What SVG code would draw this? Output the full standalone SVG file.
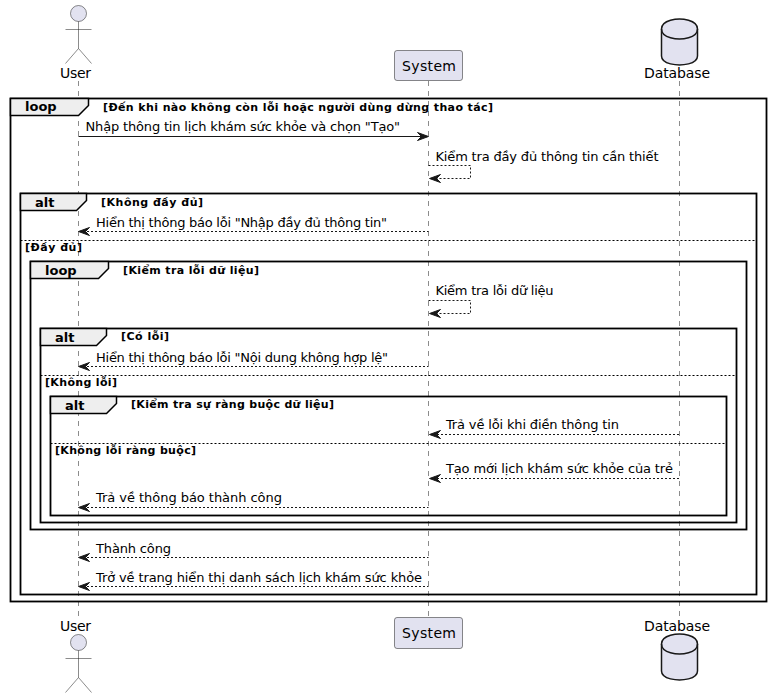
<svg xmlns="http://www.w3.org/2000/svg" width="771" height="698" viewBox="0 0 771 698">
<style>
text{font-family:"DejaVu Sans",sans-serif;fill:#000}
.m{font-size:13px}
.n{font-size:14px}
.g{font-size:11px;font-weight:bold}
.t{font-size:13px;font-weight:bold}
.life{stroke:#181818;stroke-width:.5;stroke-dasharray:5,5;fill:none}
.f{fill:none;stroke:#000;stroke-width:1.8}
.tab{fill:#EEEEEE;stroke:#000;stroke-width:1.5}
.div{stroke:#000;stroke-width:1;stroke-dasharray:2,2;fill:none}
.sol{stroke:#181818;stroke-width:1;fill:none}
.das{stroke:#181818;stroke-width:1;stroke-dasharray:2,2;fill:none}
.head{fill:#181818;stroke:#181818;stroke-width:1}
.actor{fill:#E2E2F0;stroke:#181818;stroke-width:.5}
.limb{fill:none;stroke:#181818;stroke-width:.5}
.box{fill:#E2E2F0;stroke:#181818;stroke-width:.5}
.db{fill:#E2E2F0;stroke:#181818;stroke-width:1.5}
</style>
<defs>
<path id="al" class="head" d="M78.5,0 l11,-4 l-4,4 l4,4 z"/>
<path id="ar" class="head" d="M428.5,0 l-11,-4 l4,4 l-4,4 z"/>
<path id="as" class="head" d="M429.5,0 l11,-4 l-4,4 l4,4 z"/>
</defs>
<g id="lifelines">
<line class="life" x1="78.5" y1="81" x2="78.5" y2="617"/>
<line class="life" x1="428.5" y1="81" x2="428.5" y2="617"/>
<line class="life" x1="679.5" y1="81" x2="679.5" y2="617"/>
</g>
<g id="user-top">
<circle class="actor" cx="78.5" cy="13.5" r="8"/>
<path class="limb" d="M78.5,21.5V48.5M65.5,29.5H91.5M78.5,48.5L65.5,63.5M78.5,48.5L91.5,63.5"/>
<text class="n" x="60" y="77.5" textLength="31">User</text>
</g>
<g id="user-bottom">
<circle class="actor" cx="78.5" cy="642.5" r="8"/>
<path class="limb" d="M78.5,650.5V677.5M65.5,658.5H91.5M78.5,677.5L65.5,692.5M78.5,677.5L91.5,692.5"/>
<text class="n" x="60" y="631" textLength="31">User</text>
</g>
<g id="system-top">
<rect class="box" x="394.5" y="50.5" width="68" height="30" rx="2.5"/>
<text class="n" x="402" y="70.5" textLength="54">System</text>
</g>
<g id="system-bottom">
<rect class="box" x="394.5" y="617.5" width="68" height="31" rx="2.5"/>
<text class="n" x="402" y="638" textLength="54">System</text>
</g>
<g id="database-top">
<path class="db" d="M661.5,29 C661.5,19 679.5,19 679.5,19 C679.5,19 697.5,19 697.5,29 V56 C697.5,65 679.5,65 679.5,65 C679.5,65 661.5,65 661.5,56 Z"/>
<path class="db" style="fill:none" d="M661.5,29 C661.5,39 679.5,39 679.5,39 C679.5,39 697.5,39 697.5,29"/>
<text class="n" x="644" y="77.5" textLength="66">Database</text>
</g>
<g id="database-bottom">
<path class="db" d="M661.5,644 C661.5,634 679.5,634 679.5,634 C679.5,634 697.5,634 697.5,644 V671 C697.5,680 679.5,680 679.5,680 C679.5,680 661.5,680 661.5,671 Z"/>
<path class="db" style="fill:none" d="M661.5,644 C661.5,654 679.5,654 679.5,654 C679.5,654 697.5,654 697.5,644"/>
<text class="n" x="644" y="631" textLength="66">Database</text>
</g>
<g id="frames">
<rect class="f" x="10.5" y="98.5" width="756" height="503"/>
<path class="tab" d="M10.5,98.5H88.5V105.5L78.5,115.5H10.5Z"/>
<text class="t" x="25" y="111">loop</text>
<text class="g" x="103" y="111" textLength="390" lengthAdjust="spacing">[Đến khi nào không còn lỗi hoặc người dùng dừng thao tác]</text>

<rect class="f" x="20.5" y="193.5" width="736" height="401"/>
<path class="tab" d="M20.5,193.5H86.5V200.5L76.5,210.5H20.5Z"/>
<text class="t" x="35" y="206.5">alt</text>
<text class="g" x="101" y="206" textLength="102" lengthAdjust="spacing">[Không đầy đủ]</text>
<line class="div" x1="20.5" y1="240.5" x2="756.5" y2="240.5"/>
<text class="g" x="25" y="251" textLength="57" lengthAdjust="spacing">[Đầy đủ]</text>

<rect class="f" x="30.5" y="261.5" width="716" height="268"/>
<path class="tab" d="M30.5,261.5H108.5V268.5L98.5,278.5H30.5Z"/>
<text class="t" x="45" y="275">loop</text>
<text class="g" x="123" y="274" textLength="136" lengthAdjust="spacing">[Kiểm tra lỗi dữ liệu]</text>

<rect class="f" x="40.5" y="328.5" width="696" height="194"/>
<path class="tab" d="M40.5,328.5H106.5V335.5L96.5,345.5H40.5Z"/>
<text class="t" x="55" y="341.5">alt</text>
<text class="g" x="121" y="340" textLength="48" lengthAdjust="spacing">[Có lỗi]</text>
<line class="div" x1="40.5" y1="375.5" x2="736.5" y2="375.5"/>
<text class="g" x="45" y="386" textLength="72" lengthAdjust="spacing">[Không lỗi]</text>

<rect class="f" x="50.5" y="396.5" width="676" height="119"/>
<path class="tab" d="M50.5,396.5H116.5V403.5L106.5,413.5H50.5Z"/>
<text class="t" x="65" y="409.5">alt</text>
<text class="g" x="131" y="408" textLength="203" lengthAdjust="spacing">[Kiểm tra sự ràng buộc dữ liệu]</text>
<line class="div" x1="50.5" y1="443.5" x2="726.5" y2="443.5"/>
<text class="g" x="55" y="454" textLength="141" lengthAdjust="spacing">[Không lỗi ràng buộc]</text>
</g>
<g id="connectors">
<line class="sol" x1="78.5" y1="136.5" x2="424" y2="136.5"/><use href="#ar" y="136.5"/>
<text class="m" x="85.5" y="131" textLength="314.5">Nhập thông tin lịch khám sức khỏe và chọn "Tạo"</text>

<path class="das" d="M428.5,165.5H470.5V178.5H433"/><use href="#as" y="178.5"/>
<text class="m" x="435.5" y="161" textLength="223">Kiểm tra đầy đủ thông tin cần thiết</text>

<line class="das" x1="83" y1="231.5" x2="428.5" y2="231.5"/><use href="#al" y="231.5"/>
<text class="m" x="96" y="227" textLength="291">Hiển thị thông báo lỗi "Nhập đầy đủ thông tin"</text>

<path class="das" d="M428.5,300.5H470.5V313.5H433"/><use href="#as" y="313.5"/>
<text class="m" x="435.5" y="295" textLength="118">Kiểm tra lỗi dữ liệu</text>

<line class="das" x1="83" y1="366.5" x2="428.5" y2="366.5"/><use href="#al" y="366.5"/>
<text class="m" x="96" y="362" textLength="292">Hiển thị thông báo lỗi "Nội dung không hợp lệ"</text>

<line class="das" x1="433" y1="434.5" x2="679.5" y2="434.5"/><use href="#as" y="434.5"/>
<text class="m" x="446" y="429" textLength="173">Trả về lỗi khi điền thông tin</text>

<line class="das" x1="433" y1="478.5" x2="679.5" y2="478.5"/><use href="#as" y="478.5"/>
<text class="m" x="446" y="473" textLength="227">Tạo mới lịch khám sức khỏe của trẻ</text>

<line class="das" x1="83" y1="507.5" x2="428.5" y2="507.5"/><use href="#al" y="507.5"/>
<text class="m" x="96" y="502" textLength="186">Trả về thông báo thành công</text>

<line class="das" x1="83" y1="557.5" x2="428.5" y2="557.5"/><use href="#al" y="557.5"/>
<text class="m" x="96" y="553" textLength="75">Thành công</text>

<line class="das" x1="83" y1="586.5" x2="428.5" y2="586.5"/><use href="#al" y="586.5"/>
<text class="m" x="96" y="582" textLength="326">Trở về trang hiển thị danh sách lịch khám sức khỏe</text>
</g>
</svg>
